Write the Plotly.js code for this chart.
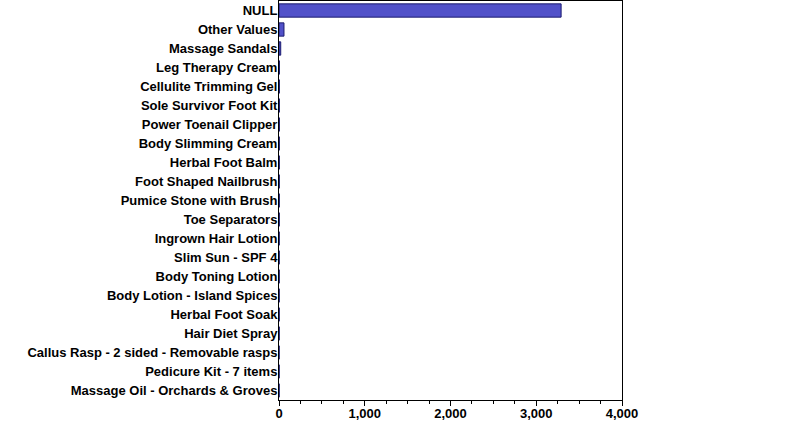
<!DOCTYPE html>
<html><head><meta charset="utf-8">
<script src="https://cdn.plot.ly/plotly-3.0.1.min.js"></script>
<style>html,body{margin:0;padding:0;background:#fff;}</style>
</head><body><div id="chart" style="width:790px;height:444px;"></div>
<script>
const categories = ["NULL","Other Values","Massage Sandals","Leg Therapy Cream","Cellulite Trimming Gel","Sole Survivor Foot Kit","Power Toenail Clipper","Body Slimming Cream","Herbal Foot Balm","Foot Shaped Nailbrush","Pumice Stone with Brush","Toe Separators","Ingrown Hair Lotion","Slim Sun - SPF 4","Body Toning Lotion","Body Lotion - Island Spices","Herbal Foot Soak","Hair Diet Spray","Callus Rasp - 2 sided - Removable rasps","Pedicure Kit - 7 items","Massage Oil - Orchards & Groves"];
const values = [3290, 58, 20, 6, 5, 5, 5, 4, 4, 4, 4, 4, 3, 3, 3, 3, 3, 3, 2, 2, 2];
const xTickVals = [0, 1000, 2000, 3000, 4000];
const xTickText = ["0", "1,000", "2,000", "3,000", "4,000"];

const font = {family: "Liberation Sans, Arial, sans-serif", size: 13, color: "#000"};
Plotly.newPlot("chart", [{
  type: "bar", orientation: "h",
  y: categories, x: values,
  width: 0.7,
  marker: {color: "#5151c9", line: {color: "#1c1c70", width: 1}},
  hoverinfo: "none"
}], {
  width: 790, height: 444,
  margin: {l: 279, r: 168, t: 1, b: 44, pad: 0},
  paper_bgcolor: "#fff", plot_bgcolor: "#fff",
  showlegend: false,
  font: font,
  bargap: 0.3,
  xaxis: {
    range: [0, 4000], tickvals: xTickVals, ticktext: xTickText,
    showgrid: false, zeroline: false,
    showline: true, linecolor: "#000", linewidth: 1, mirror: true,
    ticks: "outside", ticklen: 5, tickcolor: "#000", tickwidth: 1,
    ticklabelstandoff: -4,
    minor: {dtick: 250, ticks: "outside", ticklen: 3, tickcolor: "#000", tickwidth: 1, showgrid: false},
    tickfont: {family: "Liberation Sans, Arial, sans-serif", size: 13, color: "#000", weight: "bold"},
    fixedrange: true
  },
  yaxis: {
    type: "category", autorange: "reversed",
    showgrid: false, zeroline: false,
    showline: true, linecolor: "#000", linewidth: 1, mirror: true,
    ticks: "", ticklabelstandoff: -2,
    tickfont: {family: "Liberation Sans, Arial, sans-serif", size: 13, color: "#000", weight: "bold"},
    fixedrange: true
  }
}, {displayModeBar: false, staticPlot: true});
</script></body></html>
